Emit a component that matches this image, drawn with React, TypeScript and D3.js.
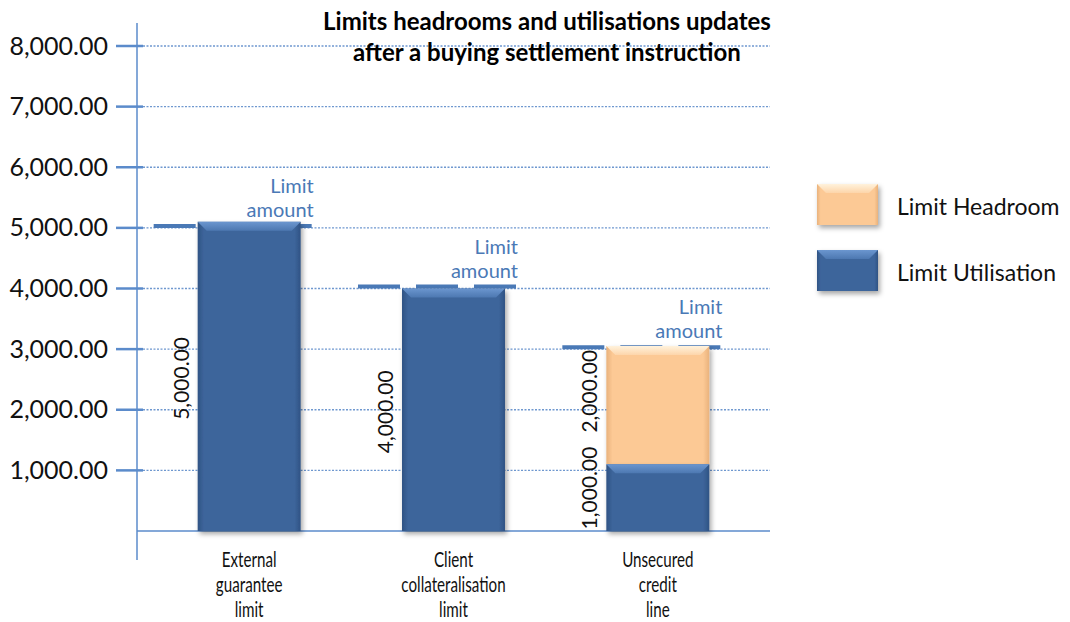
import React from "react";
import * as d3 from "d3";

const categoryLines = [
  ["External", "guarantee", "limit"],
  ["Client", "collateralisation", "limit"],
  ["Unsecured", "credit", "line"],
];
const categories = ["External guarantee limit", "Client collateralisation limit", "Unsecured credit line"];
const utilisation = [5100, 4000, 1100];
const headroom = [0, 0, 1950];
const limits = [5000, 4000, 3000];
const utilisationLabels = ["5,000.00", "4,000.00", "1,000.00"];
const headroomLabels = ["", "", "2,000.00"];
const yTicks = [1000, 2000, 3000, 4000, 5000, 6000, 7000, 8000];
const titleLines = ["Limits headrooms and utilisations updates", "after a buying settlement instruction"];
const legendItems = [
  { name: "Limit Headroom", key: "head" },
  { name: "Limit Utilisation", key: "util" },
];

const W = 1070;
const H = 622;
const FONT = "Lato, 'Open Sans', sans-serif";
const BLUE_AXIS = "#5b8bcb";
const GRID = "#6f98cf";
const LIMIT_COL = "#4a79b6";

const y = d3.scaleLinear().domain([0, 8000]).range([531, 46]);
const x = d3.scalePoint().domain(categories).range([147, 760]).padding(0.5);
const barW = 103;
const fmt = d3.format(",.2f");
const VAL_HALF = 41;

function Segment({ x0, y0, y1, kind, w = barW }: { x0: number; y0: number; y1: number; kind: string; w?: number }) {
  const h = y0 - y1;
  const bev = Math.min(9, h / 3);
  const topFill = kind === "util" ? "url(#utilTop)" : "url(#headTop)";
  const body = kind === "util" ? "url(#utilBody)" : "url(#headBody)";
  return (
    <g>
      <rect x={x0} y={y1} width={w} height={h} fill={body} filter="url(#shadow)" />
      <polygon
        points={`${x0},${y1} ${x0 + w},${y1} ${x0 + w - bev},${y1 + bev} ${x0 + bev},${y1 + bev}`}
        fill={topFill}
      />
    </g>
  );
}

export default function App() {
  return (
    <svg width={W} height={H} style={{ display: "block", position: "absolute", left: 0, top: 0 }}>
      <defs>
        <linearGradient id="utilBody" x1="0" x2="1" y1="0" y2="0">
          <stop offset="0" stopColor="#2f5384" />
          <stop offset="0.06" stopColor="#3d659b" />
          <stop offset="0.94" stopColor="#3d659b" />
          <stop offset="1" stopColor="#2f5384" />
        </linearGradient>
        <linearGradient id="utilTop" x1="0" x2="0" y1="0" y2="1">
          <stop offset="0" stopColor="#6b96cf" />
          <stop offset="1" stopColor="#4d78b1" />
        </linearGradient>
        <linearGradient id="headBody" x1="0" x2="1" y1="0" y2="0">
          <stop offset="0" stopColor="#e9b27c" />
          <stop offset="0.06" stopColor="#fcc995" />
          <stop offset="0.94" stopColor="#fcc995" />
          <stop offset="1" stopColor="#e9b27c" />
        </linearGradient>
        <linearGradient id="headTop" x1="0" x2="0" y1="0" y2="1">
          <stop offset="0" stopColor="#fff2dc" />
          <stop offset="1" stopColor="#fdd5aa" />
        </linearGradient>
        <filter id="shadow" x="-20%" y="-20%" width="140%" height="140%">
          <feDropShadow dx="2" dy="3" stdDeviation="2.5" floodColor="#000" floodOpacity="0.35" />
        </filter>
      </defs>

      {/* gridlines */}
      {yTicks.map((t) => (
        <line key={t} x1={143} x2={770} y1={y(t)} y2={y(t)} stroke={GRID} strokeWidth={1.3} strokeDasharray="2,1.5" />
      ))}
      {/* baseline */}
      <line x1={137} x2={770} y1={y(0)} y2={y(0)} stroke={BLUE_AXIS} strokeWidth={1.5} />
      {/* y axis */}
      <line x1={137} x2={137} y1={23} y2={560} stroke={BLUE_AXIS} strokeWidth={1.5} />
      {yTicks.map((t) => (
        <g key={"t" + t}>
          <line x1={116} x2={143} y1={y(t)} y2={y(t)} stroke={BLUE_AXIS} strokeWidth={2.5} />
          <text x={108} y={y(t) + 8.5} textAnchor="end" fontFamily={FONT} fontSize={25} fill="#111">
            {fmt(t)}
          </text>
        </g>
      ))}

      {/* limit lines */}
      {categories.map((c, i) => {
        const x0 = (x(c) as number) - barW / 2;
        const s = x0 - 44;
        return (
          <line
            key={"l" + i}
            x1={s}
            x2={s + 158}
            y1={y(limits[i]) - 2}
            y2={y(limits[i]) - 2}
            stroke={LIMIT_COL}
            strokeWidth={4}
            strokeDasharray="42,16"
          />
        );
      })}

      {/* bars */}
      {categories.map((c, i) => {
        const x0 = (x(c) as number) - barW / 2;
        return (
          <g key={"b" + i}>
            {headroom[i] > 0 && (
              <Segment x0={x0} y0={y(utilisation[i])} y1={y(utilisation[i] + headroom[i])} kind="head" />
            )}
            <Segment x0={x0} y0={y(0)} y1={y(utilisation[i])} kind="util" />
          </g>
        );
      })}

      {/* rotated value labels */}
      {categories.map((c, i) => {
        const lx = (x(c) as number) - barW / 2 - 9;
        const m1 = Math.min((y(0) + y(utilisation[i])) / 2 + 2, y(0) - VAL_HALF - 2);
        const m2 = (y(utilisation[i]) + y(utilisation[i] + headroom[i])) / 2 - 14;
        return (
          <g key={"v" + i}>
            <text
              transform={`translate(${lx},${m1}) rotate(-90)`}
              textAnchor="middle"
              fontFamily={FONT}
              fontSize={21}
              fill="#111"
            >
              {utilisationLabels[i]}
            </text>
            {headroomLabels[i] && (
              <text
                transform={`translate(${lx},${m2}) rotate(-90)`}
                textAnchor="middle"
                fontFamily={FONT}
                fontSize={21}
                fill="#111"
              >
                {headroomLabels[i]}
              </text>
            )}
          </g>
        );
      })}

      {/* limit amount labels */}
      {categories.map((c, i) => {
        const x0 = (x(c) as number) - barW / 2;
        const ex = x0 - 44 + 158 + 2;
        const ly = y(limits[i]) - 2;
        return (
          <text key={"la" + i} textAnchor="end" fontFamily={FONT} fontSize={20} fill={LIMIT_COL}>
            <tspan x={ex} y={ly - 33}>Limit</tspan>
            <tspan x={ex} y={ly - 9}>amount</tspan>
          </text>
        );
      })}

      {/* category labels */}
      {categories.map((c, i) => (
        <g key={"c" + i} transform={`translate(${x(c)},0) scale(0.69,1)`}>
          {categoryLines[i].map((ln, j) => (
            <text key={j} x={0} y={567 + j * 25} textAnchor="middle" fontFamily={FONT} fontSize={22} fill="#111">
              {ln}
            </text>
          ))}
        </g>
      ))}

      {/* title */}
      {titleLines.map((t, i) => (
        <text key={"ti" + i} x={547} y={30 + i * 31} textAnchor="middle" fontFamily={FONT} fontWeight="bold" fontSize={24} fill="#000">
          {t}
        </text>
      ))}

      {/* legend */}
      {legendItems.map((it, i) => {
        const ly = 184 + i * 66;
        return (
          <g key={"lg" + i}>
            <Segment x0={817} y0={ly + 41} y1={ly} kind={it.key} w={61} />
            <text x={897} y={ly + 31} fontFamily={FONT} fontSize={23} fill="#111">
              {it.name}
            </text>
          </g>
        );
      })}
    </svg>
  );
}
